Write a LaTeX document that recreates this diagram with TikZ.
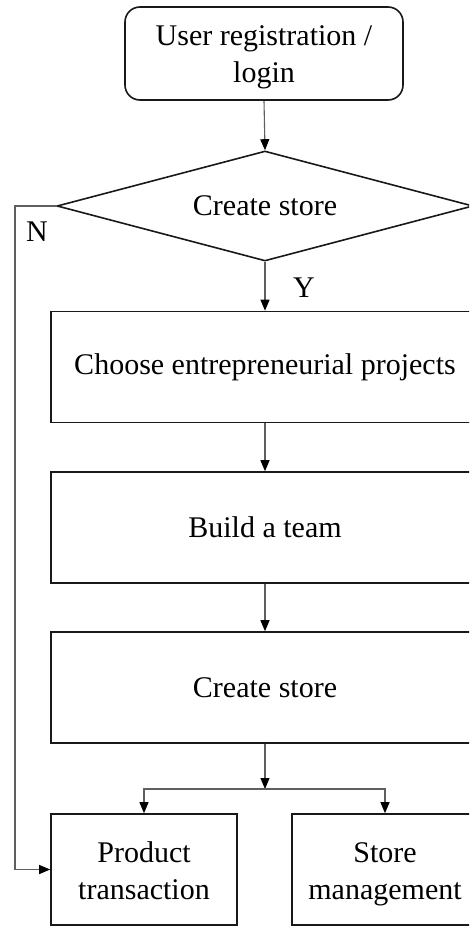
\documentclass[tikz,border=0pt]{standalone}
\usepackage{fontspec}
\setmainfont{Liberation Serif}
\usetikzlibrary{shapes.geometric,arrows.meta}
\definecolor{conn}{RGB}{95,95,95}
\definecolor{edge}{RGB}{25,25,25}
\newcommand{\topstrut}[1]{\rule{0pt}{#1}}
\newcommand{\botstrut}{\rule[-10.8pt]{0pt}{0pt}}
\begin{document}
\begin{tikzpicture}[x=1pt,y=-1pt,
  every node/.style={font=\fontsize{30}{37}\selectfont, text=black},
  boxshape/.style={draw=edge, line width=1.6pt, rectangle, inner sep=0pt, align=center},
  startbox/.style={boxshape, rounded corners=15pt, minimum width=278pt, minimum height=93pt},
  wide/.style={boxshape, minimum width=428pt, minimum height=111pt},
  small/.style={boxshape, minimum width=186pt, minimum height=111pt},
  decision/.style={draw=edge, line width=1.6pt, diamond, aspect=3.78, inner sep=0pt, minimum width=416pt, minimum height=110pt},
  conn/.style={draw=conn, line width=1.1pt, -{Triangle[length=11pt,width=9pt,color=black]}},
  lbl/.style={inner sep=0pt}
]
\useasboundingbox (0,0) rectangle (469,926);
\clip (0,0) rectangle (469,926);
\fill[white] (0,0) rectangle (469,926);

\node[startbox] (start) at (264,53.5) {\topstrut{31.5pt}User registration /\\login\botstrut};
\node[decision] (dec) at (265,206) {Create store};
\node[wide] (b1) at (265,367) {Choose entrepreneurial projects};
\node[wide] (b2) at (265,527.5) {Build a team};
\node[wide] (b3) at (265,687.5) {Create store};
\node[small] (b4) at (144,869.5) {\topstrut{33.5pt}Product\\transaction\botstrut};
\node[small] (b5) at (385,869.5) {\topstrut{33.5pt}Store\\management\botstrut};

\coordinate (j) at (265,789);
\coordinate (nl) at (15,206);

\draw[conn] (start.south) -- (dec.north);
\draw[conn] (dec.south) -- (b1.north);
\draw[conn] (b1.south) -- (b2.north);
\draw[conn] (b2.south) -- (b3.north);
\draw[conn] (b3.south) -- (j);
\draw[conn] (j) -| (b4.north);
\draw[conn] (j) -| (b5.north);
\draw[conn] (dec.west) -- (nl) |- (b4.west);

\node[lbl] (nlab) at (37,232) {N};
\node[lbl] (ylab) at (304,288) {Y};
\end{tikzpicture}
\end{document}
